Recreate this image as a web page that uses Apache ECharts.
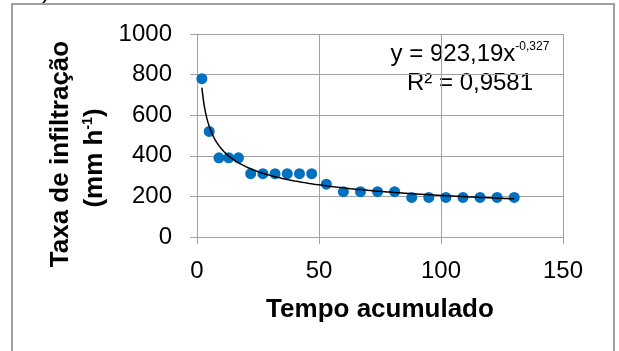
<!DOCTYPE html>
<html>
<head>
<meta charset="utf-8">
<script src="https://cdn.jsdelivr.net/npm/echarts@6/dist/echarts.min.js"></script>
<style>
  html, body { margin: 0; padding: 0; background: #fff; }
  #chart { width: 619px; height: 351px; }
</style>
</head>
<body>
<div id="chart"></div>
<script>
// Cumulative time and measured infiltration rate
const tempo = [2, 5, 9, 13, 17, 22, 27, 32, 37, 42, 47, 53, 60, 67, 74, 81, 88, 95, 102, 109, 116, 123, 130];
const taxa = [780, 520, 390, 390, 390, 312, 312, 312, 312, 312, 312, 260, 223, 223, 223, 223, 195, 195, 195, 195, 195, 195, 195];

// Power trend line: y = a * x^b
const coefA = 923.19;
const coefB = -0.327;
const r2Text = '0,9581';

// Axis ticks
const xTicks = { min: 0, max: 150, interval: 50 };
const yTicks = { min: 0, max: 1000, interval: 200 };

const FONT = 'Liberation Sans, Arial, sans-serif';
const GRID_COLOR = '#a0a0a0';

// Trend curve sampled over the measured time span
const trend = [];
for (let x = tempo[0]; x <= tempo[tempo.length - 1]; x += 0.5) {
  trend.push([x, coefA * Math.pow(x, coefB)]);
}

const chart = echarts.init(document.getElementById('chart'), null, { renderer: 'canvas' });

chart.setOption({
  animation: false,
  backgroundColor: '#fff',
  grid: { left: 197, right: 56, top: 34, bottom: 114, containLabel: false },
  xAxis: {
    type: 'value',
    min: xTicks.min, max: xTicks.max, interval: xTicks.interval,
    name: 'Tempo acumulado',
    nameLocation: 'middle',
    nameGap: 60,
    nameTextStyle: { fontFamily: FONT, fontSize: 26, fontWeight: 'bold', color: '#000' },
    axisLine: { show: true, lineStyle: { color: GRID_COLOR, width: 1 } },
    axisTick: { show: true, inside: false, length: 7, lineStyle: { color: GRID_COLOR } },
    axisLabel: { margin: 22, fontFamily: FONT, fontSize: 24, color: '#000', formatter: v => String(v) },
    splitLine: { show: true, lineStyle: { color: GRID_COLOR, width: 1 } }
  },
  yAxis: {
    type: 'value',
    min: yTicks.min, max: yTicks.max, interval: yTicks.interval,
    axisLine: { show: true, lineStyle: { color: GRID_COLOR, width: 1 } },
    axisTick: { show: true, inside: false, length: 7, lineStyle: { color: GRID_COLOR } },
    axisLabel: { margin: 25, fontFamily: FONT, fontSize: 24, color: '#000', formatter: v => String(v) },
    splitLine: { show: true, lineStyle: { color: GRID_COLOR, width: 1 } }
  },
  series: [
    {
      type: 'line',
      data: trend,
      showSymbol: false,
      smooth: false,
      lineStyle: { color: '#000', width: 1.5 },
      z: 3
    },
    {
      type: 'scatter',
      data: tempo.map((t, i) => [t, taxa[i]]),
      symbol: 'circle',
      symbolSize: 11,
      itemStyle: { color: '#0070C0', opacity: 1 },
      z: 2
    }
  ],
  graphic: [
    // outer frame
    {
      type: 'rect',
      shape: { x: 12, y: 4, width: 602, height: 360 },
      style: { fill: 'none', stroke: '#a0a0a0', lineWidth: 2 },
      silent: true
    },
    // panel letter
    {
      type: 'text',
      x: 50, y: 3,
      style: { text: 'a)', font: '24px ' + FONT, fill: '#000', textAlign: 'right', textVerticalAlign: 'bottom' }
    },
    // y axis title
    {
      type: 'text',
      x: 61, y: 154,
      rotation: Math.PI / 2,
      style: {
        text: 'Taxa de infiltração',
        font: 'bold 26px ' + FONT,
        fill: '#000',
        textAlign: 'center',
        textVerticalAlign: 'middle'
      }
    },
    {
      type: 'text',
      x: 95, y: 158,
      rotation: Math.PI / 2,
      style: {
        text: '{m|(mm h}{s|-1}{m|)}',
        fill: '#000',
        textAlign: 'center',
        textVerticalAlign: 'middle',
        rich: {
          m: { fontFamily: FONT, fontSize: 26, fontWeight: 'bold', fill: '#000', lineHeight: 28 },
          s: { fontFamily: FONT, fontSize: 14, fontWeight: 'bold', fill: '#000', verticalAlign: 'top', lineHeight: 14 }
        }
      }
    },
    // trend equation and R²
    {
      type: 'text',
      x: 470, y: 54,
      style: {
        text: '{m|y = ' + coefA.toFixed(2).replace('.', ',') + 'x}{s|' + coefB.toFixed(3).replace('.', ',') + '}',
        fill: '#000',
        textAlign: 'center',
        textVerticalAlign: 'middle',
        rich: {
          m: { fontFamily: FONT, fontSize: 24, fill: '#000', lineHeight: 26 },
          s: { fontFamily: FONT, fontSize: 12, fill: '#000', verticalAlign: 'top', lineHeight: 12 }
        }
      }
    },
    {
      type: 'text',
      x: 470, y: 83,
      style: {
        text: 'R² = ' + r2Text,
        font: '24px ' + FONT,
        fill: '#000',
        textAlign: 'center',
        textVerticalAlign: 'middle'
      }
    }
  ]
});
</script>
</body>
</html>
